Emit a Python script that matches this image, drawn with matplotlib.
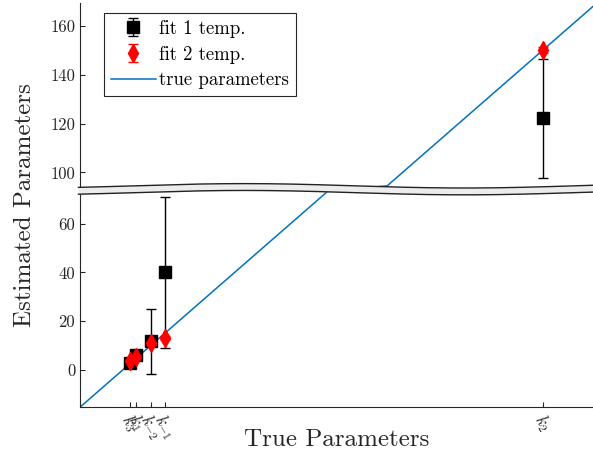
import numpy as np
import matplotlib.pyplot as plt
from matplotlib.transforms import blended_transform_factory

plt.rcParams.update({
    "font.family": "cmr10",
    "mathtext.fontset": "cm",
    "axes.unicode_minus": False,
    "axes.formatter.use_mathtext": True,
    "xtick.direction": "in",
    "ytick.direction": "in",
})

# Values
param_names = [r"$k_3$", r"$k_1$", r"$k_{-2}$", r"$k_{-1}$", r"$k_2$"]
true_vals = [2.5, 4.8, 10.0, 15.0, 150.0]
fit1_vals = [2.7, 6.1, 11.9, 40.0, 122.1]
fit1_err = [0.6, 0.8, 13.3, 30.9, 24.4]
fit2_vals = [3.8, 5.5, 10.9, 13.2, 150.1]
fit2_err = [0.4, 0.5, 0.8, 0.9, 1.3]
ytick_vals = [0, 20, 40, 60, 100, 120, 140, 160]

XLIM = (-15.2, 168.0)
YLIM = (-15.0, 150.4)   # in squashed (display) units

# y-axis break: values between BREAK_LO and BREAK_HI are squeezed, above shifted by GAP
BREAK_LO, BREAK_HI, GAP = 73.2, 94.5, 19.0

BLUE = "#0072BD"
AXC = "#262626"


def squash(y):
    y = np.asarray(y, float)
    mid = BREAK_LO + (y - BREAK_LO) * (BREAK_HI - GAP - BREAK_LO) / (BREAK_HI - BREAK_LO)
    return np.where(y <= BREAK_LO, y, np.where(y >= BREAK_HI, y - GAP, mid))


def err_pair(vals, errs):
    v = np.asarray(vals, float)
    e = np.asarray(errs, float)
    return [squash(v) - squash(v - e), squash(v + e) - squash(v)]


fig = plt.figure(figsize=(5.93, 4.59), dpi=100)
ax = fig.add_axes([80 / 593, 52.3 / 459, 513 / 593, 403.7 / 459])

h1 = ax.errorbar(true_vals, squash(fit1_vals), yerr=err_pair(fit1_vals, fit1_err),
                 fmt="s", color="k", ms=8, capsize=3.4, elinewidth=1.0,
                 capthick=1.0, label="fit 1 temp.", zorder=3)
h2 = ax.errorbar(true_vals, squash(fit2_vals), yerr=err_pair(fit2_vals, fit2_err),
                 fmt="d", color="r", ms=9, capsize=3.4, elinewidth=1.0,
                 capthick=1.0, label="fit 2 temp.", zorder=4)

line_x = np.array([XLIM[0], BREAK_LO, BREAK_HI, XLIM[1]])
h3, = ax.plot(line_x, squash(line_x), color=BLUE, lw=1.1, label="true parameters", zorder=2)

ax.set_xlim(*XLIM)
ax.set_ylim(*YLIM)

ax.set_xticks(true_vals)
ax.set_xticklabels(param_names, rotation=-60, ha="center", va="top", fontsize=12)
ax.set_yticks(squash(ytick_vals))
ax.set_yticklabels([str(v) for v in ytick_vals], fontsize=12)
ax.tick_params(length=3.6, width=0.8, color=AXC, labelcolor=AXC)

for s in ("top", "right"):
    ax.spines[s].set_visible(False)
for s in ("left", "bottom"):
    ax.spines[s].set_color(AXC)
    ax.spines[s].set_linewidth(0.8)

ax.set_xlabel("True Parameters", fontsize=18, color=AXC, va="center")
ax.xaxis.set_label_coords(0.5, -0.083)
ax.set_ylabel("Estimated Parameters", fontsize=18, color=AXC, va="center")
ax.yaxis.set_label_coords(-0.107, 0.5)

# wavy break band across the axis
f = np.linspace(-0.003, 1.0, 400)
wave = np.cos(2 * np.pi * (f - 0.32) / 0.86)
top = 75.5 + 0.9 * wave
bot = top - 2.8
tr = blended_transform_factory(ax.transAxes, ax.transData)
ax.fill_between(f, bot, top, color="#ececec", transform=tr, zorder=6, clip_on=False, lw=0)
ax.plot(f, top, color="#222222", lw=1.0, transform=tr, zorder=7, clip_on=False)
ax.plot(f, bot, color="#222222", lw=1.0, transform=tr, zorder=7, clip_on=False)

leg = ax.legend([h1, h2, h3], ["fit 1 temp.", "fit 2 temp.", "true parameters"],
                loc="upper left", bbox_to_anchor=(0.047, 0.975), borderaxespad=0,
                fontsize=13.5, handlelength=2.4, labelspacing=0.42, borderpad=0.35,
                handletextpad=0.2, fancybox=False, framealpha=1, edgecolor=AXC)
leg.get_frame().set_linewidth(0.8)

fig.savefig("out.png", dpi=100)
